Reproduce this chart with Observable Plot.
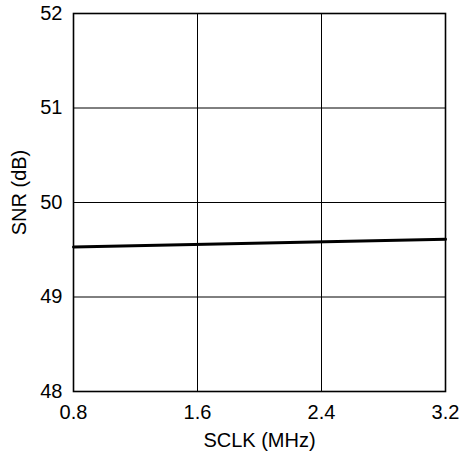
<!DOCTYPE html>
<html><head><meta charset="utf-8">
<script src="https://cdn.jsdelivr.net/npm/d3@7"></script>
<script src="https://cdn.jsdelivr.net/npm/@observablehq/plot@0.6"></script>
<style>body{margin:0;background:#fff}</style>
</head><body><div id="chart"></div>
<script>
const sclk = [0.8, 3.2];
const snr = [49.53, 49.61];
const xTicks = [0.8, 1.6, 2.4, 3.2];
const yTicks = [48, 49, 50, 51, 52];
const xLabel = "SCLK (MHz)";
const yLabel = "SNR (dB)";

const data = sclk.map((x, i) => ({x, y: snr[i]}));
const chart = Plot.plot({
  width: 461, height: 461,
  marginLeft: 73, marginTop: 13, marginRight: 16, marginBottom: 70,
  style: {fontFamily: "Liberation Sans, Arial, sans-serif", fontSize: "20px", color: "#000", background: "#fff"},
  x: {domain: [0.8, 3.2]},
  y: {domain: [48, 52]},
  marks: [
    Plot.gridX(xTicks, {stroke: "#000", strokeOpacity: 1, strokeWidth: 1}),
    Plot.gridY(yTicks, {stroke: "#000", strokeOpacity: 1, strokeWidth: 1}),
    Plot.frame({stroke: "#000", strokeWidth: 1.6}),
    Plot.axisX({ticks: xTicks, tickSize: 0, tickPadding: 13, tickFormat: d3.format(".1f"), label: null, fontSize: 20}),
    Plot.axisY({ticks: yTicks, tickSize: 0, tickPadding: 11, tickFormat: d3.format("d"), label: null, fontSize: 20}),
    Plot.text([xLabel], {frameAnchor: "bottom", dy: 49, text: d => d, textAnchor: "middle", lineAnchor: "middle", fontSize: 20, fill: "#000"}),
    Plot.text([yLabel], {frameAnchor: "left", rotate: -90, dx: -54, dy: -10, text: d => d, textAnchor: "middle", lineAnchor: "middle", fontSize: 20, fill: "#000"}),
    Plot.line(data, {x: "x", y: "y", stroke: "#000", strokeWidth: 3})
  ]
});
document.getElementById("chart").append(chart);
</script></body></html>
